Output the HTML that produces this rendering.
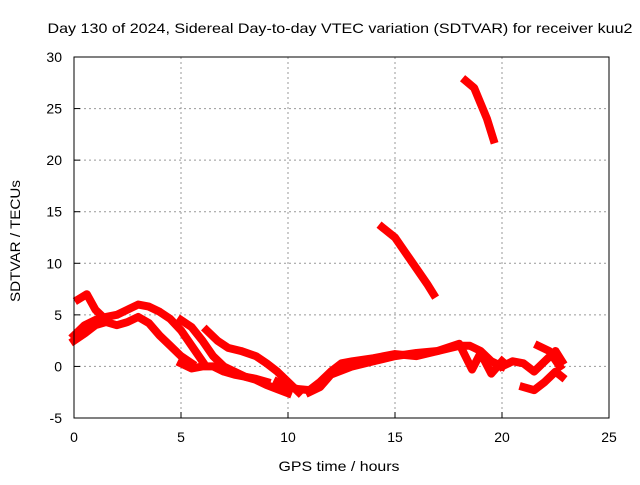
<!DOCTYPE html>
<html><head><meta charset="utf-8"><style>
body{margin:0;background:#fff;}
text{font-family:"Liberation Sans",sans-serif;font-size:14px;fill:#000;}
</style></head><body>
<svg id="c" width="640" height="480">
<rect width="640" height="480" fill="#fff"/>
<text x="340" y="33" text-anchor="middle" font-size="16" textLength="585" lengthAdjust="spacingAndGlyphs">Day 130 of 2024, Sidereal Day-to-day VTEC variation (SDTVAR) for receiver kuu2</text>
<g id="grid"></g><g id="marks"></g><g id="axes"></g>
<text x="339" y="471" text-anchor="middle" font-size="16" textLength="121" lengthAdjust="spacingAndGlyphs">GPS time / hours</text>
<text transform="translate(20,241) rotate(-90)" text-anchor="middle" font-size="16" textLength="122" lengthAdjust="spacingAndGlyphs">SDTVAR / TECUs</text>
</svg>
<script>
const xTicks=[0,5,10,15,20,25];
const yTicks=[-5,0,5,10,15,20,25,30];
const trackHours=[
[0,0.5,1,1.5,2,2.5,3,3.5,4,4.5,5,5.5,6],
[0,0.5,1,1.5,2,2.5,3,3.5,4,4.5,5,5.5],
[0.2,0.6,1,1.5],
[5,5.5,6,6.5,7,7.5,8,8.5,9],
[6.2,6.7,7.2,7.8,8.5,9,9.5,10,10.5],
[5,5.5,6,6.5,7,7.5,8,8.5,9,9.5,10],
[9.5,10,10.5,11,11.5,12,12.5,13,14,15,16,17,18,18.5,19,19.5,20],
[11,11.5,12,13,14,15,16,17,18,18.6,19,19.5,20],
[20,20.5,21,21.5,22,22.5,22.8],
[21,21.5,22,22.5,22.8],
[21.7,22.2,22.7],
[14.4,15,15.5,16,16.5,16.8],
[18.3,18.7,19,19.3,19.6]];
const trackValues=[
[3,4,4.5,4.8,5,5.5,6,5.8,5.3,4.6,3.5,2,0.5],
[2.5,3.2,4,4.3,4,4.3,4.8,4.2,3,2,1,0.3],
[6.5,7,5.5,4.5],
[4.5,3.8,2.5,1,0,-0.5,-1,-1.2,-1.5],
[3.5,2.5,1.8,1.5,1,0.3,-0.5,-1.5,-2.5],
[0.3,-0.2,0,0,-0.5,-0.8,-1,-1.3,-1.8,-2.2,-2.6],
[-1.5,-2,-2.2,-2.3,-1.5,-0.5,0.3,0.5,0.8,1.2,1,1.5,2,2,1.5,0.5,0],
[-2.5,-2,-0.8,0,0.5,1,1.3,1.5,2.2,-0.3,1.3,-0.7,0.5],
[0,0.5,0.3,-0.5,0.5,1.5,0.5],
[-2,-2.3,-1.5,-0.5,-1],
[2,1.5,0],
[13.5,12.5,11,9.5,8,7],
[27.7,27,25.5,24,22]];
const X0=74,X1=609,Y0=418,Y1=57;
const sx=h=>X0+(h-0)/25*(X1-X0);
const sy=v=>Y0-(v+5)/35*(Y0-Y1);
const NS="http://www.w3.org/2000/svg";
function mk(tag,attrs,parent){const e=document.createElementNS(NS,tag);for(const k in attrs)e.setAttribute(k,attrs[k]);document.getElementById(parent).appendChild(e);return e;}
xTicks.forEach(t=>{
 if(t>0&&t<25){const g=mk('line',{x1:sx(t),x2:sx(t),y1:Y1,y2:Y0,stroke:'#999','stroke-dasharray':'2,3'},'grid');
 
 }
 const tk=mk('line',{x1:sx(t),x2:sx(t),y1:Y0,y2:Y0-6,stroke:'#000'},'axes');
 
 
 const tx=mk('text',{x:sx(t),y:Y0+24,'text-anchor':'middle'},'axes');tx.textContent=t;
 
 
});
yTicks.forEach(t=>{
 if(t>-5&&t<30){const g=mk('line',{x1:X0,x2:X1,y1:sy(t),y2:sy(t),stroke:'#999','stroke-dasharray':'2,3'},'grid');
 
 }
 const tk=mk('line',{x1:X0,x2:X0+6,y1:sy(t),y2:sy(t),stroke:'#000'},'axes');
 
 
 const tx=mk('text',{x:X0-12,y:sy(t)+5,'text-anchor':'end'},'axes');tx.textContent=t;
 
 
});
const fr=mk('rect',{x:X0,y:Y1,width:X1-X0,height:Y0-Y1,fill:'none',stroke:'#000'},'axes');


trackHours.forEach((hs,i)=>{
 const pts=hs.map((h,j)=>sx(h)+','+sy(trackValues[i][j])).join(' ');
 const p=mk('polyline',{points:pts,fill:'none',stroke:'#ff0000','stroke-width':8,'stroke-linejoin':'round','stroke-linecap':'square'},'marks');
 
 
});
</script>
</body></html>
